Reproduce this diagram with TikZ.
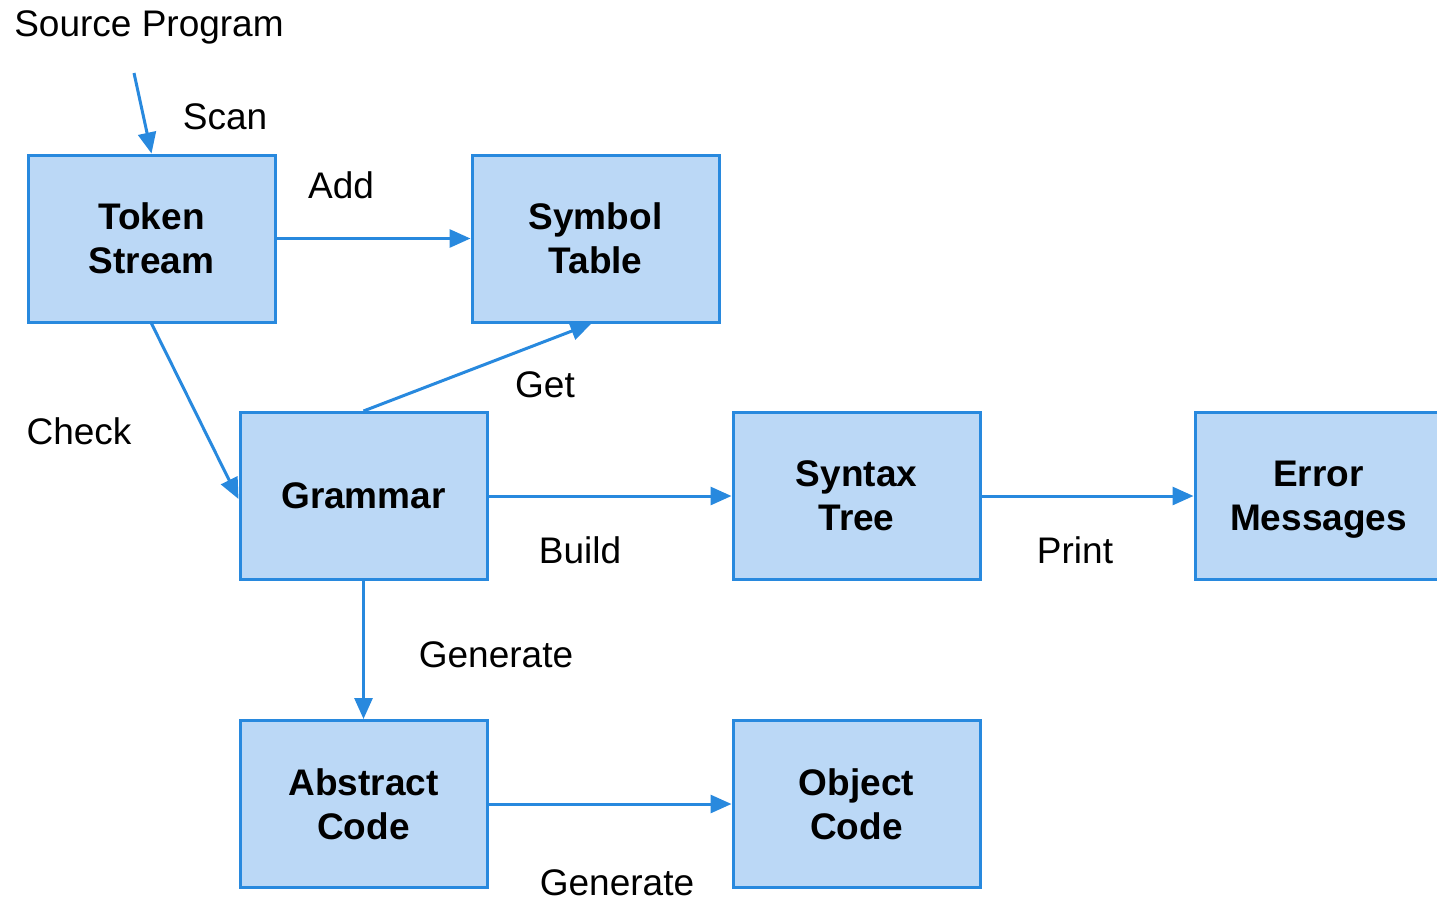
\documentclass[tikz,border=0pt]{standalone}
\usepackage{fontspec}
\setmainfont{Liberation Sans}
\usetikzlibrary{arrows.meta}
\definecolor{boxfill}{RGB}{187,216,246}
\definecolor{boxline}{RGB}{40,137,222}
\tikzset{
  stagebox/.style={draw=boxline, fill=boxfill, line width=3pt, minimum width=247pt, minimum height=167pt,
    inner sep=0pt, align=center, text depth=0pt, font=\fontsize{37}{44}\selectfont\bfseries},
  flow/.style={draw=boxline, line width=3pt, -{Triangle[length=21pt,width=18pt]}},
  lbl/.style={anchor=base, inner sep=0pt, font=\fontsize{37}{44}\selectfont}
}
\begin{document}
\begin{tikzpicture}[x=1pt,y=-1pt]
\useasboundingbox (0,0) rectangle (1437,899);
\node[stagebox] (tok) at (151.5,238.5) {Token\\Stream};
\node[stagebox] (sym) at (595.5,238.5) {Symbol\\Table};
\node[stagebox] (gram) at (363.5,496) {Grammar};
\node[stagebox] (syn) at (856.5,496) {Syntax\\Tree};
\node[stagebox] (err) at (1318.5,496) {Error\\Messages};
\node[stagebox] (abs) at (363.5,804) {Abstract\\Code};
\node[stagebox] (obj) at (856.5,804) {Object\\Code};
\coordinate (src) at (134,73);

\draw[flow] (src) -- (tok.north);
\draw[flow] (tok.east) -- (sym.west);
\draw[flow] (tok.south) -- ([yshift=-3pt]gram.west);
\draw[flow] (gram.north) -- ([xshift=-4pt]sym.south);
\draw[flow] (gram.east) -- (syn.west);
\draw[flow] (syn.east) -- (err.west);
\draw[flow] (gram.south) -- (abs.north);
\draw[flow] (abs.east) -- (obj.west);

\node[lbl] (lsrc) at (149,37) {Source Program};
\node[lbl] (lscan) at (225,129) {Scan};
\node[lbl] (ladd) at (341,198) {Add};
\node[lbl] (lget) at (545,397) {Get};
\node[lbl] (lcheck) at (79,444) {Check};
\node[lbl] (lbuild) at (580,563) {Build};
\node[lbl] (lprint) at (1075,563) {Print};
\node[lbl] (lgen1) at (496,667) {Generate};
\node[lbl] (lgen2) at (617,895) {Generate};
\end{tikzpicture}
\end{document}
